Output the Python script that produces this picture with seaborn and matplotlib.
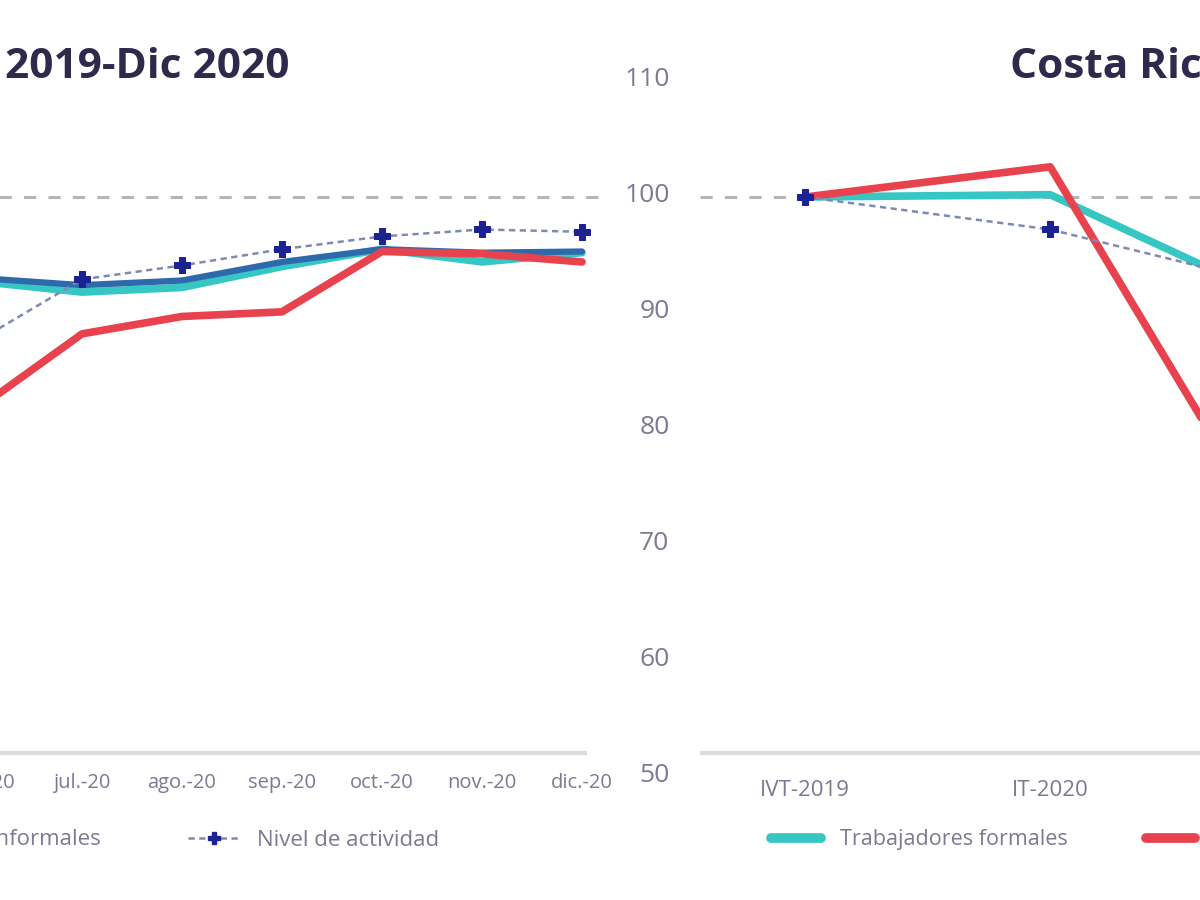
import matplotlib
matplotlib.use("Agg")
import matplotlib.pyplot as plt
import matplotlib.transforms as mtransforms
from matplotlib.lines import Line2D
import seaborn as sns
import pandas as pd

# ---------------- data ----------------
months = ["jun.-20", "jul.-20", "ago.-20", "sep.-20", "oct.-20", "nov.-20", "dic.-20"]
left_total = [93.0, 92.4, 92.8, 94.4, 95.5, 95.2, 95.3]
left_formales = [92.7, 91.8, 92.2, 94.0, 95.5, 94.4, 95.2]
left_informales = [82.0, 88.2, 89.7, 90.1, 95.3, 95.1, 94.4]
left_actividad = [87.8, 92.9, 94.1, 95.5, 96.6, 97.2, 97.0]

quarters = ["IVT-2019", "IT-2020", "IIT-2020"]
cr_formales = [100.0, 100.2, 90.4]
cr_informales = [100.0, 102.6, 67.5]
cr_actividad = [100.0, 97.2, 92.0]

yticks = [50, 60, 70, 80, 90, 100, 110]
left_title = "Dic 2019-Dic 2020"
right_title = "Costa Rica"
legend_left = ["Total de trabajadores", "Trabajadores formales",
               "Trabajadores informales", "Nivel de actividad"]
legend_right = ["Trabajadores formales", "Trabajadores informales", "Nivel de actividad"]

# ---------------- style ----------------
sns.set_theme(style="white")
plt.rcParams["font.family"] = ["Open Sans", "DejaVu Sans"]

RED = "#e8424e"
CYAN = "#36c6c3"
BLUE = "#2c6aab"
NAVY = "#1b2392"
DASHC = "#8088b4"
REFC = "#b5b5b5"
TXT = "#7a7a92"
TITLEC = "#2d2a4c"

fig = plt.figure(figsize=(12, 9), dpi=100)
ax1 = fig.add_axes([-98 / 1200, 0.1367, 700 / 1200, 0.7733])
ax2 = fig.add_axes([700 / 1200, 0.1367, 742 / 1200, 0.7733])

dfl = pd.DataFrame({"x": months, "total": left_total, "formales": left_formales,
                    "informales": left_informales, "actividad": left_actividad})
dfr = pd.DataFrame({"x": quarters, "formales": cr_formales,
                    "informales": cr_informales, "actividad": cr_actividad})

def draw(ax, df, with_total):
    ax.axhline(100, color=REFC, lw=2.2, dashes=(4, 4), zorder=1)
    sns.lineplot(data=df, x="x", y="formales", ax=ax, color=CYAN, lw=5.5,
                 sort=False, zorder=2)
    if with_total:
        sns.lineplot(data=df, x="x", y="total", ax=ax, color=BLUE, lw=4.5,
                     sort=False, zorder=3)
    sns.lineplot(data=df, x="x", y="informales", ax=ax, color=RED, lw=5.5,
                 sort=False, zorder=4)
    sns.lineplot(data=df, x="x", y="actividad", ax=ax, color=DASHC, lw=1.8,
                 dashes=False, sort=False, zorder=5, linestyle=(0, (2.5, 1.8)),
                 marker="P", markersize=12, markerfacecolor=NAVY,
                 markeredgecolor=NAVY)
    ax.set_ylim(50, 110)
    ax.set_yticks(yticks)
    ax.set_xlabel("")
    ax.set_ylabel("")
    for s in ax.spines.values():
        s.set_visible(False)
    ax.tick_params(length=0, colors=TXT)

draw(ax1, dfl, True)
draw(ax2, dfr, False)

ax1.set_xlim(-0.8, 6.2)
ax1.hlines(52.1, -0.8, 6.05, color="#dcdcdc", lw=3, zorder=0)
ax1.set_yticklabels([])
ax1.tick_params(axis="x", labelsize=14.5, pad=-3)

ax2.set_xlim(-0.43, 2.6)
ax2.axhline(52.1, color="#dcdcdc", lw=3, zorder=0)
ax2.tick_params(axis="x", labelsize=16, pad=2)
ax2.tick_params(axis="y", labelsize=19, pad=22)
offset = mtransforms.ScaledTranslation(0, 4 / 100, fig.dpi_scale_trans)
for lab in ax2.get_yticklabels():
    lab.set_transform(lab.get_transform() + offset)

# titles
fig.text(290 / 1200, 1 - 68 / 900, left_title, ha="right", va="center",
         fontsize=30.5, fontweight="bold", color=TITLEC)
fig.text(1010 / 1200, 1 - 68 / 900, right_title, ha="left", va="center",
         fontsize=30.5, fontweight="bold", color=TITLEC)

# legends
def act_handle():
    return Line2D([], [], color=DASHC, lw=1.8, linestyle=(0, (2.5, 1.8)),
                  marker="P", markersize=9, markerfacecolor=NAVY,
                  markeredgecolor=NAVY)

hl = [Line2D([], [], color=BLUE, lw=7), Line2D([], [], color=CYAN, lw=7),
      Line2D([], [], color=RED, lw=7), act_handle()]
leg1 = ax1.legend(hl, legend_left, ncol=4, loc="center right",
                  bbox_to_anchor=(459 / 1200, 1 - 840 / 900),
                  bbox_transform=fig.transFigure, frameon=False, fontsize=16,
                  handlelength=2.35, handletextpad=0.77, columnspacing=3.9,
                  labelcolor=TXT)

hr = [Line2D([], [], color=CYAN, lw=7), Line2D([], [], color=RED, lw=7),
      act_handle()]
leg2 = ax2.legend(hr, legend_right, ncol=3, loc="center left",
                  bbox_to_anchor=(752 / 1200, 1 - 840 / 900),
                  bbox_transform=fig.transFigure, frameon=False, fontsize=15.5,
                  handlelength=2.3, handletextpad=0.9, columnspacing=3.6,
                  labelcolor=TXT)

fig.savefig("out.png", dpi=100)
